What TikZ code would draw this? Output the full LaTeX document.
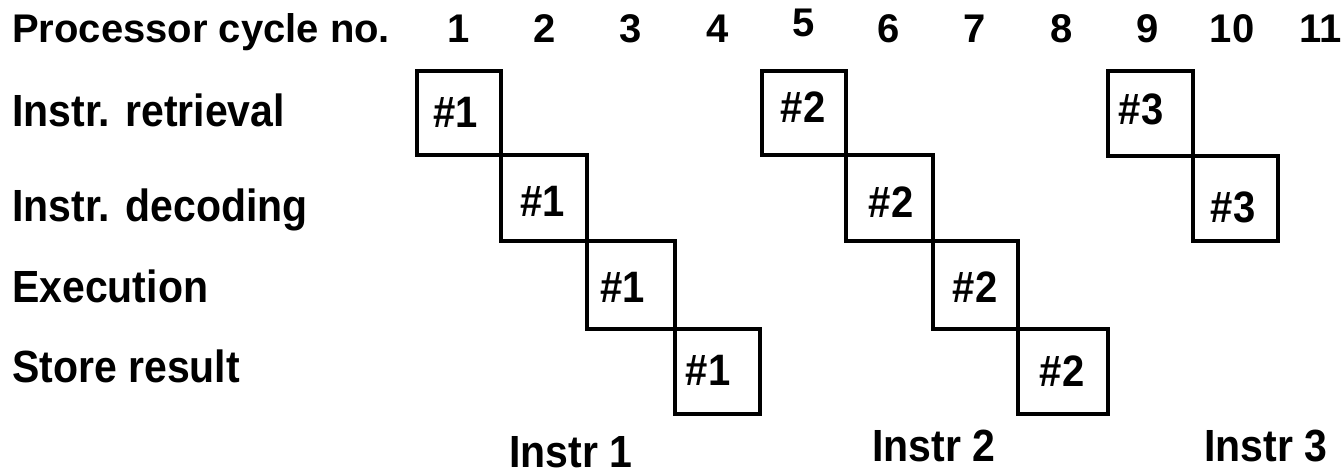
\documentclass[tikz,border=0pt]{standalone}
\usepackage{fontspec}
\setmainfont{Liberation Sans}
\newcommand\tallT[1]{\scalebox{1}[1.1]{#1}}
\begin{document}
\begin{tikzpicture}[x=1pt,y=-1pt,
  lab/.style={font=\fontsize{41}{44}\selectfont\bfseries, inner sep=0pt, anchor=base west},
  num/.style={font=\fontsize{40}{44}\selectfont\bfseries, inner sep=0pt, anchor=base},
  tag/.style={font=\fontsize{40}{44}\selectfont\bfseries, inner sep=0pt, anchor=center},
  cell/.style={draw=black, line width=4.5pt, inner sep=0pt, outer sep=0pt, rectangle},
  foot/.style={font=\fontsize{41}{44}\selectfont\bfseries, inner sep=0pt, anchor=base}]
\useasboundingbox (0,0) rectangle (1342,476);
% header row
\node[lab, font=\fontsize{40}{44}\selectfont\bfseries] (hdr) at (12,43) {Processor cycle no.};
\node[num] (n1) at (459,43) {1};
\node[num] (n2) at (545,43) {2};
\node[num] (n3) at (631,43) {3};
\node[num] (n4) at (718,43) {4};
\node[num] (n5) at (804,37) {5};
\node[num] (n6) at (889,43) {6};
\node[num] (n7) at (975,43) {7};
\node[num] (n8) at (1062,43) {8};
\node[num] (n9) at (1148,43) {9};
\node[num] (n10) at (1232,43) {10};
\node[num] (n11) at (1321,43) {11};
% row labels
\node[lab] (l1) at (12,127) {\tallT{Instr. retrieval}};
\node[lab] (l2) at (12,222) {\tallT{Instr. decoding}};
\node[lab] (l3) at (12,302) {\tallT{Execution}};
\node[lab] (l4) at (12,382) {\tallT{Store result}};
% instruction 1
\node[cell, minimum width=84pt, minimum height=84pt] (a1) at (459,113) {};
\node[cell, minimum width=86pt, minimum height=86pt] (a2) at (544,198) {};
\node[cell, minimum width=88pt, minimum height=88pt] (a3) at (631,285) {};
\node[cell, minimum width=85pt, minimum height=85pt] (a4) at (717.5,371.5) {};
% instruction 2
\node[cell, minimum width=84pt, minimum height=84pt] (b1) at (804,113) {};
\node[cell, minimum width=87pt, minimum height=86pt] (b2) at (889.5,198) {};
\node[cell, minimum width=85pt, minimum height=88pt] (b3) at (975.5,285) {};
\node[cell, minimum width=90pt, minimum height=85pt] (b4) at (1063,371.5) {};
% instruction 3
\node[cell, minimum width=85pt, minimum height=85pt] (c1) at (1150.5,113.5) {};
\node[cell, minimum width=85pt, minimum height=85pt] (c2) at (1235.5,198.5) {};
% tags
\node[tag] (ta1) at (456,112) {\tallT{\#1}};
\node[tag] (ta2) at (543,201) {\tallT{\#1}};
\node[tag] (ta3) at (623,287) {\tallT{\#1}};
\node[tag] (ta4) at (708,370) {\tallT{\#1}};
\node[tag] (tb1) at (803,107) {\tallT{\#2}};
\node[tag] (tb2) at (891,202) {\tallT{\#2}};
\node[tag] (tb3) at (975,287) {\tallT{\#2}};
\node[tag] (tb4) at (1062,371) {\tallT{\#2}};
\node[tag] (tc1) at (1141,109) {\tallT{\#3}};
\node[tag] (tc2) at (1233,207) {\tallT{\#3}};
% footer labels
\node[foot] (f1) at (571,467) {\tallT{Instr 1}};
\node[foot] (f2) at (934,461) {\tallT{Instr 2}};
\node[foot] (f3) at (1266,461) {\tallT{Instr 3}};
\end{tikzpicture}
\end{document}
